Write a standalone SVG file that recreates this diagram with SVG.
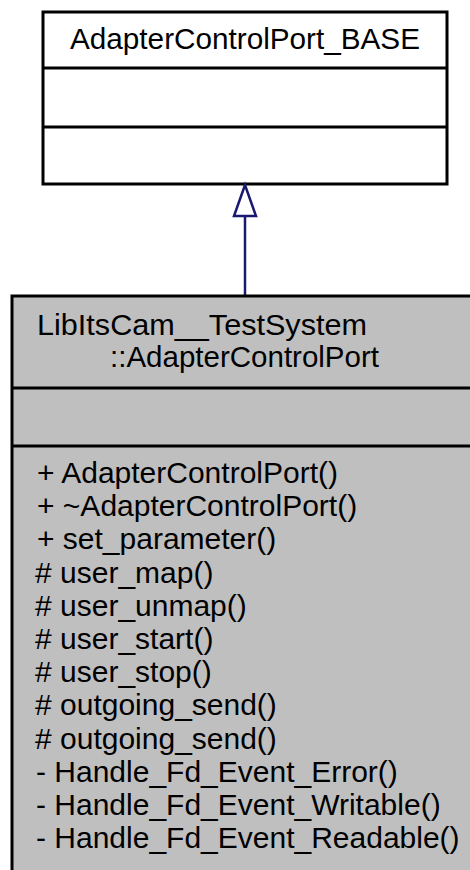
<svg xmlns="http://www.w3.org/2000/svg" width="470" height="870" viewBox="0 0 470 870">
<style>
.box{stroke:#000;stroke-width:3}
.t{font-family:"Liberation Sans",Arial,sans-serif;font-size:30px;fill:#000}
.edge{stroke:#191970;stroke-width:2.5;fill:none}
</style>
<rect width="470" height="870" fill="#fff"/>
<g id="base">
<rect class="box" x="43" y="12" width="404" height="172" fill="#fff"/>
<line class="box" x1="43" y1="68" x2="447" y2="68"/>
<line class="box" x1="43" y1="127" x2="447" y2="127"/>
<text class="t" x="245" y="49" text-anchor="middle" textLength="350" lengthAdjust="spacingAndGlyphs">AdapterControlPort_BASE</text>
</g>
<g id="edges">
<line class="edge" x1="245" y1="216" x2="245" y2="296"/>
<polygon class="edge" points="245,185 234,216 256,216" fill="#fff"/>
</g>
<g id="derived">
<rect class="box" x="12" y="296" width="480" height="600" fill="#bfbfbf"/>
<line class="box" x1="12" y1="388" x2="492" y2="388"/>
<line class="box" x1="12" y1="446" x2="492" y2="446"/>
<text class="t" x="37" y="335" textLength="330" lengthAdjust="spacingAndGlyphs">LibItsCam__TestSystem</text>
<text class="t" x="110" y="367" textLength="269" lengthAdjust="spacingAndGlyphs">::AdapterControlPort</text>
<text class="t" x="37" y="483">+ AdapterControlPort()</text>
<text class="t" x="37" y="516">+ ~AdapterControlPort()</text>
<text class="t" x="37" y="549">+ set_parameter()</text>
<text class="t" x="35" y="583"># user_map()</text>
<text class="t" x="35" y="616"># user_unmap()</text>
<text class="t" x="35" y="649"># user_start()</text>
<text class="t" x="35" y="682"># user_stop()</text>
<text class="t" x="35" y="715"># outgoing_send()</text>
<text class="t" x="35" y="749"># outgoing_send()</text>
<text class="t" x="36" y="782">- Handle_Fd_Event_Error()</text>
<text class="t" x="36" y="815">- Handle_Fd_Event_Writable()</text>
<text class="t" x="36" y="848">- Handle_Fd_Event_Readable()</text>
</g>
</svg>
